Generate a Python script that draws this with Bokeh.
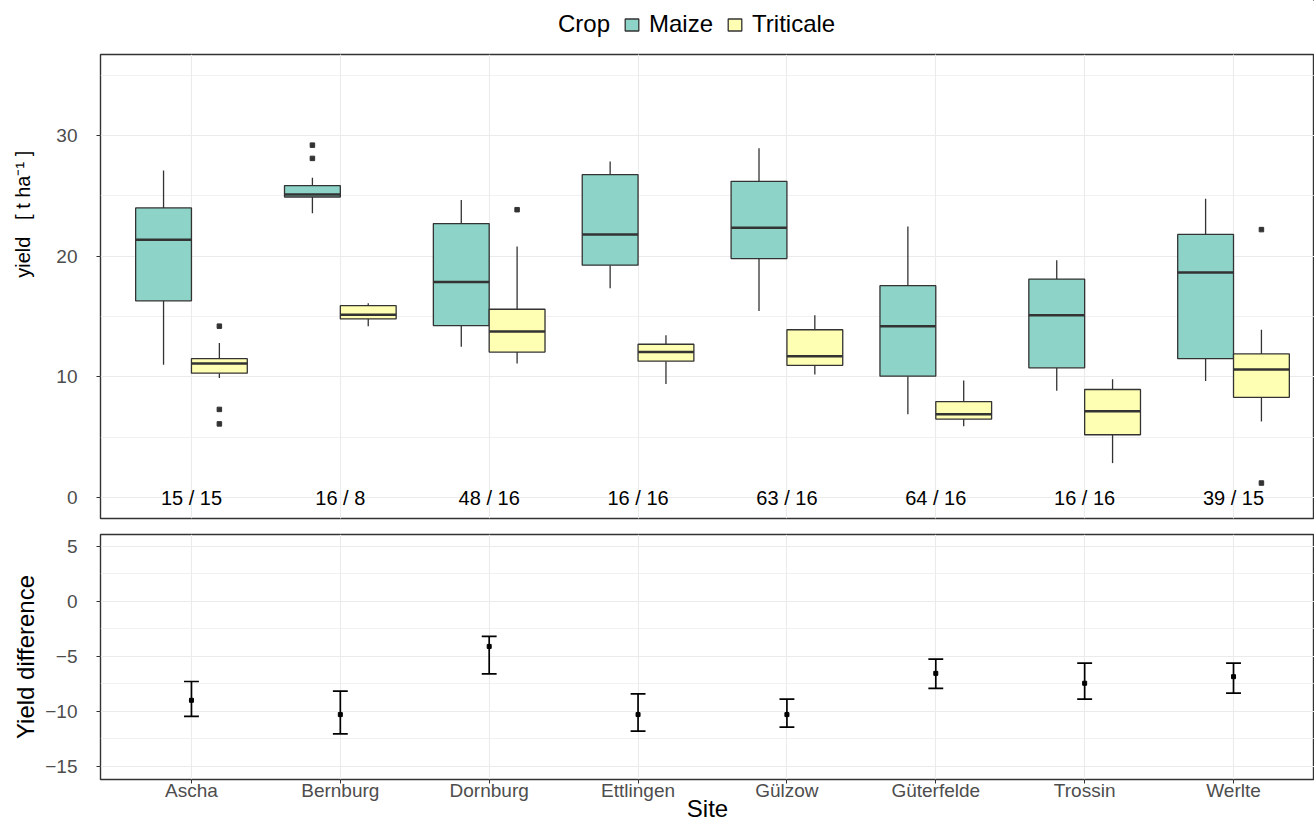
from bokeh.plotting import figure
from bokeh.models import (ColumnDataSource, FixedTicker, Legend, LegendItem,
                          Range1d, Grid)
from bokeh.layouts import column
from bokeh.embed import file_html
from bokeh.resources import INLINE
from bokeh.core.properties import value

# ---------------- data ----------------
sites = ["Ascha", "Bernburg", "Dornburg", "Ettlingen", "Gülzow", "Güterfelde", "Trossin", "Werlte"]

maize_low = [11.0, 23.55, 12.5, 17.35, 15.45, 6.9, 8.85, 9.65]
maize_q1 = [16.3, 24.9, 14.25, 19.25, 19.8, 10.05, 10.75, 11.5]
maize_median = [21.35, 25.1, 17.85, 21.8, 22.35, 14.2, 15.1, 18.65]
maize_q3 = [24.0, 25.85, 22.7, 26.75, 26.2, 17.55, 18.1, 21.8]
maize_high = [27.1, 26.5, 24.65, 27.85, 28.95, 22.45, 19.65, 24.75]

triticale_low = [9.9, 14.2, 11.1, 9.4, 10.2, 5.9, 2.85, 6.3]
triticale_q1 = [10.3, 14.8, 12.05, 11.3, 10.95, 6.5, 5.2, 8.3]
triticale_median = [11.1, 15.15, 13.75, 12.05, 11.7, 6.9, 7.15, 10.6]
triticale_q3 = [11.5, 15.9, 15.6, 12.7, 13.9, 7.95, 8.95, 11.9]
triticale_high = [12.8, 16.1, 20.8, 13.45, 15.1, 9.7, 9.8, 13.9]

maize_outlier_site = ["Bernburg", "Bernburg"]
maize_outlier_yield = [29.2, 28.1]
triticale_outlier_site = ["Ascha", "Ascha", "Ascha", "Dornburg", "Werlte", "Werlte"]
triticale_outlier_yield = [14.2, 7.3, 6.1, 23.85, 22.2, 1.2]

n_maize = [15, 16, 48, 16, 63, 64, 16, 39]
n_triticale = [15, 8, 16, 16, 16, 16, 16, 15]

diff_mean = [-9.0, -10.3, -4.1, -10.3, -10.3, -6.55, -7.45, -6.85]
diff_low = [-10.47, -12.05, -6.59, -11.81, -11.45, -7.92, -8.9, -8.35]
diff_high = [-7.29, -8.17, -3.19, -8.41, -8.9, -5.25, -5.62, -5.62]

yield_ticks = [0, 10, 20, 30]
yield_minor = [5, 15, 25, 35]
diff_ticks = [-15, -10, -5, 0, 5]
diff_minor = [-12.5, -7.5, -2.5, 2.5]

# ---------------- style ----------------
FONT = "Liberation Sans"
MAIZE_COLOR = "#8DD3C7"
TRITICALE_COLOR = "#FFFFB3"
EDGE = "#333333"
GRID = "#EBEBEB"
TICK_TEXT = "#4D4D4D"
W = 1314
LEFT = 100
BOX_W = 0.375
CAP_HALF = 0.05
LW = 1.3
NBSP = "\u00a0"

pos = {s: i + 1 for i, s in enumerate(sites)}
site_pos = [pos[s] for s in sites]
xr = Range1d(0.389, 8.544)


def style_common(p):
    p.outline_line_color = EDGE
    p.outline_line_width = 1.4
    p.background_fill_color = "white"
    p.border_fill_color = "white"


def style_yaxis(ax):
    ax.axis_line_color = None
    ax.major_tick_line_color = EDGE
    ax.major_tick_in = 0
    ax.major_tick_out = 4
    ax.minor_tick_line_color = None
    ax.major_label_standoff = 19
    ax.major_label_text_font = FONT
    ax.major_label_text_font_size = "19px"
    ax.major_label_text_color = TICK_TEXT


# ---------------- legend strip ----------------
p0 = figure(width=W, height=48, x_range=Range1d(-20, -19), y_range=Range1d(-20, -19),
            x_axis_type=None, y_axis_type=None, output_backend="svg",
            toolbar_location=None, min_border_left=LEFT, min_border_right=0,
            min_border_top=0, min_border_bottom=0)
p0.outline_line_color = None
r_crop = p0.scatter(x=[], y=[], size=0, fill_alpha=0, line_alpha=0)
r_lm = p0.vbar(x=site_pos, bottom=maize_q1, top=maize_q3, width=BOX_W,
               fill_color=MAIZE_COLOR, line_color=EDGE, line_width=LW)
r_lt = p0.vbar(x=site_pos, bottom=triticale_q1, top=triticale_q3, width=BOX_W,
               fill_color=TRITICALE_COLOR, line_color=EDGE, line_width=LW)
legend = Legend(items=[LegendItem(label="Crop", renderers=[r_crop]),
                       LegendItem(label="Maize", renderers=[r_lm]),
                       LegendItem(label="Triticale", renderers=[r_lt])],
                orientation="horizontal", location=(432, 10),
                label_text_font=FONT, label_text_font_size="24px",
                label_text_color="black", border_line_color=None,
                background_fill_alpha=0, glyph_width=17, glyph_height=15,
                label_standoff=9, spacing=13, padding=2, margin=0)
p0.add_layout(legend, "center")

# ---------------- top panel: boxplots ----------------
p1 = figure(width=W, height=478, x_range=xr, y_range=Range1d(-1.74, 36.71),
            x_axis_location=None, output_backend="svg", toolbar_location=None,
            min_border_left=LEFT, min_border_right=0, min_border_top=6,
            min_border_bottom=8)
style_common(p1)
p1.add_layout(Grid(dimension=0, ticker=FixedTicker(ticks=site_pos),
                   grid_line_color=GRID, grid_line_width=1.1))
p1.yaxis.ticker = FixedTicker(ticks=yield_ticks, minor_ticks=yield_minor)
p1.ygrid.grid_line_color = GRID
p1.ygrid.grid_line_width = 1.1
p1.ygrid.minor_grid_line_color = GRID
p1.ygrid.minor_grid_line_width = 0.7
ya1 = p1.yaxis[0]
style_yaxis(ya1)
# leading no-break spaces shift the visible label upwards, as in the original
ya1.axis_label = NBSP * 26 + "yield" + NBSP * 2 + " [ t ha\u207b\u00b9 ]"
ya1.axis_label_text_font = FONT
ya1.axis_label_text_font_size = "20px"
ya1.axis_label_text_font_style = "normal"
ya1.axis_label_text_color = "black"
ya1.axis_label_standoff = 19


def draw_boxes(p, offset, low, q1, med, q3, high, color):
    xs = [x + offset for x in site_pos]
    src = ColumnDataSource(dict(x=xs, low=low, q1=q1, med=med, q3=q3, high=high,
                                xl=[x - BOX_W / 2 for x in xs],
                                xr=[x + BOX_W / 2 for x in xs]))
    p.segment(x0="x", y0="low", x1="x", y1="q1", source=src, line_color=EDGE, line_width=LW)
    p.segment(x0="x", y0="q3", x1="x", y1="high", source=src, line_color=EDGE, line_width=LW)
    r = p.vbar(x="x", bottom="q1", top="q3", width=BOX_W, source=src,
               fill_color=color, line_color=EDGE, line_width=LW)
    p.segment(x0="xl", y0="med", x1="xr", y1="med", source=src, line_color=EDGE, line_width=2.5)
    return r


draw_boxes(p1, -BOX_W / 2, maize_low, maize_q1, maize_median, maize_q3, maize_high, MAIZE_COLOR)
draw_boxes(p1, BOX_W / 2, triticale_low, triticale_q1, triticale_median, triticale_q3,
           triticale_high, TRITICALE_COLOR)

p1.scatter(x=[pos[s] - BOX_W / 2 for s in maize_outlier_site], y=maize_outlier_yield,
           marker="square", size=4.5, color=EDGE)
p1.scatter(x=[pos[s] + BOX_W / 2 for s in triticale_outlier_site], y=triticale_outlier_yield,
           marker="square", size=4.5, color=EDGE)

n_src = ColumnDataSource(dict(x=site_pos, y=[0] * len(sites),
                              label=[f"{a} / {b}" for a, b in zip(n_maize, n_triticale)]))
p1.text(x="x", y="y", text="label", source=n_src, text_align="center",
        text_baseline="middle", text_font=value(FONT), text_font_size="20px",
        text_color="black")

# ---------------- bottom panel: yield difference ----------------
p2 = figure(width=W, height=298, x_range=xr, y_range=Range1d(-16.21, 6.09),
            output_backend="svg", toolbar_location=None,
            min_border_left=LEFT, min_border_right=0, min_border_top=8,
            min_border_bottom=0)
style_common(p2)
xa = p2.xaxis[0]
xa.ticker = FixedTicker(ticks=site_pos)
xa.major_label_overrides = {pos[s]: s for s in sites}
xa.axis_line_color = None
xa.major_tick_line_color = EDGE
xa.major_tick_in = 0
xa.major_tick_out = 4
xa.minor_tick_line_color = None
xa.major_label_standoff = -4
xa.major_label_text_font = FONT
xa.major_label_text_font_size = "19px"
xa.major_label_text_color = TICK_TEXT
xa.axis_label = "Site"
xa.axis_label_text_font = FONT
xa.axis_label_text_font_size = "24px"
xa.axis_label_text_font_style = "normal"
xa.axis_label_text_color = "black"
xa.axis_label_standoff = -9

ya = p2.yaxis[0]
ya.ticker = FixedTicker(ticks=diff_ticks, minor_ticks=diff_minor)
ya.major_label_overrides = {t: (str(t).replace("-", "\u2212")) for t in diff_ticks}
style_yaxis(ya)
ya.axis_label = "Yield difference"
ya.axis_label_text_font = FONT
ya.axis_label_text_font_size = "24px"
ya.axis_label_text_font_style = "normal"
ya.axis_label_text_color = "black"
ya.axis_label_standoff = 3

p2.xgrid.grid_line_color = GRID
p2.xgrid.grid_line_width = 1.1
p2.ygrid.grid_line_color = GRID
p2.ygrid.grid_line_width = 1.1
p2.ygrid.minor_grid_line_color = GRID
p2.ygrid.minor_grid_line_width = 0.7

d_src = ColumnDataSource(dict(x=site_pos, mean=diff_mean, low=diff_low, high=diff_high,
                              xl=[x - CAP_HALF for x in site_pos],
                              xr=[x + CAP_HALF for x in site_pos]))
p2.segment(x0="x", y0="low", x1="x", y1="high", source=d_src, line_color="black", line_width=1.7)
p2.segment(x0="xl", y0="low", x1="xr", y1="low", source=d_src, line_color="black", line_width=1.7)
p2.segment(x0="xl", y0="high", x1="xr", y1="high", source=d_src, line_color="black", line_width=1.7)
p2.scatter(x="x", y="mean", source=d_src, marker="square", size=4, color="black")

layout = column(p0, p1, p2, spacing=0)
open("out.html", "w").write(file_html(layout, INLINE))
